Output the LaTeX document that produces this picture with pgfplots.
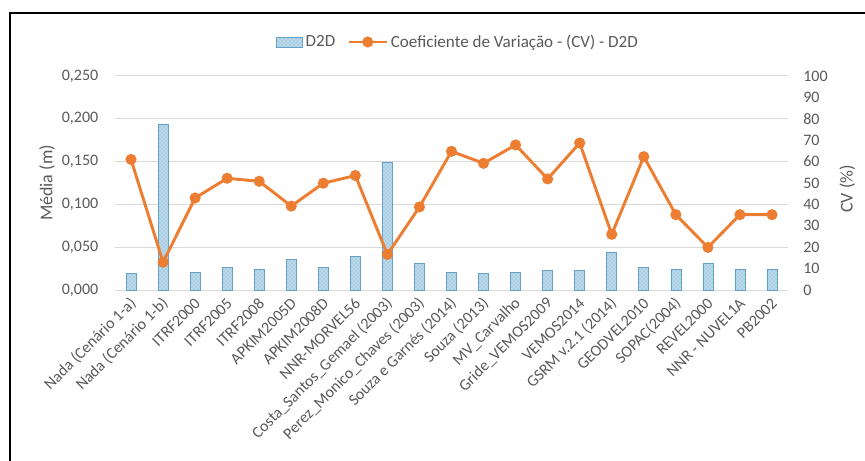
\documentclass[border=0pt]{standalone}
\usepackage{pgfplots}
\pgfplotsset{compat=1.18}
\usepackage{fontspec}
\setmainfont{Carlito}
\usetikzlibrary{patterns}
\definecolor{barfill}{RGB}{168,206,228}
\definecolor{bardraw}{RGB}{100,160,200}
\definecolor{cvorange}{RGB}{237,125,49}
\definecolor{gridgray}{RGB}{217,217,217}
\definecolor{txtgray}{RGB}{89,89,89}

\pgfplotsset{cvlegend/.style={legend image code/.code={\draw[##1, mark repeat=2, mark phase=2] plot coordinates {(0cm,0cm) (0.5cm,0cm) (1cm,0cm)};}},
  barlegend/.style={legend image code/.code={\draw[##1] (0cm,-0.13cm) rectangle (0.7cm,0.13cm);}}}

\pgfplotstableread{
x d2d cv
0 0.0195 61.0
1 0.193 13.0
2 0.021 43.0
3 0.0265 52.2
4 0.024 50.8
5 0.036 39.2
6 0.0265 49.9
7 0.039 53.5
8 0.149 16.6
9 0.0315 38.8
10 0.021 64.8
11 0.0195 59.2
12 0.021 67.8
13 0.0226 51.9
14 0.0226 68.7
15 0.044 26.0
16 0.0265 62.3
17 0.024 35.2
18 0.0315 19.9
19 0.024 35.2
20 0.024 35.2
}\datatable

\begin{document}
\begin{tikzpicture}
\useasboundingbox (0pt,0pt) rectangle (648.75pt,345.75pt);
\draw[line width=1.8pt] (7.5pt,-2pt) -- (7.5pt,336pt) -- (650pt,336pt);

\begin{axis}[
  at={(86.25pt,128.25pt)}, anchor=south west,
  scale only axis, width=504.75pt, height=160.5pt,
  xmin=-0.5, xmax=20.5, ymin=0, ymax=0.25,
  ybar, bar width=7.5pt,
  axis line style={draw=none},
  tick style={draw=none},
  /pgf/number format/assume math mode=true,
  ytick={0,0.05,0.1,0.15,0.2,0.25},
  ymajorgrids, grid style={gridgray, line width=0.75pt},
  scaled y ticks=false,
  yticklabel style={/pgf/number format/fixed, /pgf/number format/fixed zerofill,
    /pgf/number format/precision=3, /pgf/number format/use comma,
    font=\fontsize{12}{14}\selectfont, text=txtgray, anchor=east, xshift=-9pt},
  xtick={0,...,20},
  xticklabels={Nada (Cenário 1-a), Nada (Cenário 1-b), ITRF2000, ITRF2005, ITRF2008, APKIM2005D, APKIM2008D, NNR-MORVEL56, Costa\_Santos\_Gemael (2003), Perez\_Monico\_Chaves (2003), Souza e Garnés (2014), Souza (2013), MV\_Carvalho, Gride\_VEMOS2009, VEMOS2014, GSRM v.2.1 (2014), GEODVEL2010, SOPAC(2004), REVEL2000, NNR - NUVEL1A, PB2002},
  xticklabel style={rotate=45, anchor=east, font=\fontsize{12}{14}\selectfont, text=txtgray, yshift=-4pt, xshift=2pt},
  ylabel={Média (m)},
  ylabel style={at={(axis description cs:-0.101,0.5)}, anchor=center, font=\fontsize{13.5}{15}\selectfont, text=txtgray},
]
\addplot[fill=barfill, draw=bardraw, line width=0.5pt, postaction={pattern=crosshatch dots, pattern color=white}] table[x=x, y=d2d] {\datatable};
\end{axis}

\begin{axis}[
  at={(86.25pt,128.25pt)}, anchor=south west,
  scale only axis, width=504.75pt, height=160.5pt,
  xmin=-0.5, xmax=20.5, ymin=0, ymax=100,
  axis x line=none,
  axis y line*=right,
  axis line style={draw=none},
  tick style={draw=none},
  /pgf/number format/assume math mode=true,
  ytick={0,10,...,100},
  yticklabel style={font=\fontsize{12}{14}\selectfont, text=txtgray, anchor=west, xshift=8pt},
  ylabel={CV (\%)},
  ylabel style={at={(axis description cs:1.088,0.472)}, anchor=center, font=\fontsize{13.5}{15}\selectfont, text=txtgray},
  legend style={at={(rel axis cs:0.51,1.159)}, anchor=center, draw=none, fill=none,
    legend columns=2, font=\fontsize{12.8}{14}\selectfont, text=txtgray,
    /tikz/every even column/.append style={column sep=7pt}},
  legend cell align=left,
]
\addlegendimage{barlegend, fill=barfill, draw=bardraw, postaction={pattern=crosshatch dots, pattern color=white}}
\addlegendentry{D2D}
\addplot[color=cvorange, line width=2.2pt, mark=*, mark size=3pt, mark options={fill=cvorange, draw=cvorange}, cvlegend]
  table[x=x, y=cv] {\datatable};
\addlegendentry{Coeficiente de Variação - (CV) - D2D}
\end{axis}
\end{tikzpicture}
\end{document}
